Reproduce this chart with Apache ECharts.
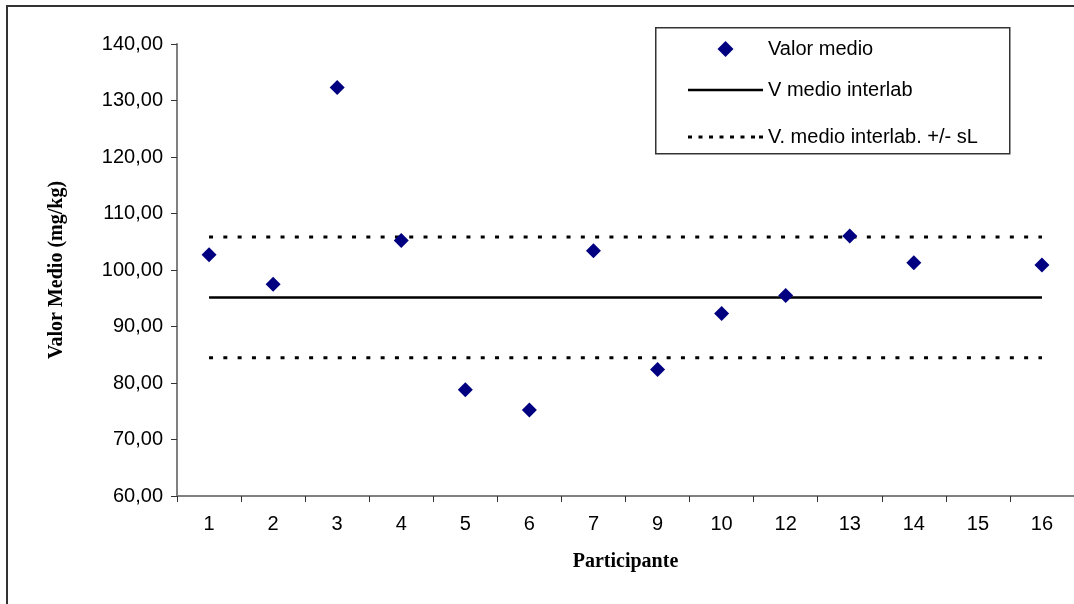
<!DOCTYPE html>
<html>
<head>
<meta charset="utf-8">
<script src="https://cdn.jsdelivr.net/npm/echarts@6/dist/echarts.min.js"></script>
<style>
html,body{margin:0;padding:0;background:#fff;}
#frame{position:absolute;left:6px;top:5px;width:1080px;height:620px;border:2px solid #333;box-sizing:border-box;}
#chart{position:absolute;left:0;top:0;width:1074px;height:604px;}
</style>
</head>
<body>
<div id="frame"></div>
<div id="chart"></div>
<script>
const categories = ['1','2','3','4','5','6','7','9','10','12','13','14','15','16'];
const valorMedio = [102.7, 97.5, 132.3, 105.2, 78.8, 75.2, 103.4, 82.4, 92.3, 95.5, 106.0, 101.3, null, 100.9];
const vMedioInterlab = 95.15;
const sL = 10.7;
const yTicks = {min: 60, max: 140, interval: 10};

const meanLine = categories.map(() => vMedioInterlab);
const upperLine = categories.map(() => +(vMedioInterlab + sL).toFixed(2));
const lowerLine = categories.map(() => +(vMedioInterlab - sL).toFixed(2));

const SANS = 'Liberation Sans, Arial, sans-serif';
const SERIF = 'Liberation Serif, Times New Roman, serif';
const FS = 20;

const chart = echarts.init(document.getElementById('chart'));
const dash = {color: '#000', width: 3, type: [4, 10.3]};
const dashIcon = 'path://M0,0 L4,0 L4,3 L0,3 Z M10.5,0 L14.5,0 L14.5,3 L10.5,3 Z M21,0 L25,0 L25,3 L21,3 Z M31.5,0 L35.5,0 L35.5,3 L31.5,3 Z M42,0 L46,0 L46,3 L42,3 Z M52.5,0 L56.5,0 L56.5,3 L52.5,3 Z M63,0 L67,0 L67,3 L63,3 Z M71,0 L75,0 L75,3 L71,3 Z';
const diamondIcon = 'path://M37.5,0 L45.5,8 L37.5,16 L29.5,8 Z M0,8 L0.01,8.01 Z M75,8 L74.99,8.01 Z';
const lineIcon = 'path://M0,0 L75,0 L75,2.5 L0,2.5 Z';
function leg(name, icon, cy, h) {
  return {
    left: 688, top: cy - 10, orient: 'vertical', padding: 0,
    itemWidth: 75, itemHeight: h,
    textStyle: {fontFamily: SANS, fontSize: FS, color: '#000', lineHeight: 20},
    data: [{name: name, icon: icon}],
    z: 10
  };
}
chart.setOption({
  animation: false,
  backgroundColor: 'transparent',
  grid: {left: 177, top: 44, right: 0, bottom: 108},
  graphic: [{
    type: 'rect', left: 655, top: 27,
    shape: {width: 354, height: 126},
    style: {fill: '#fff', stroke: '#333', lineWidth: 1.5},
    z: 5
  }],
  legend: [
    leg('Valor medio', diamondIcon, 49, 16),
    leg('V medio interlab', lineIcon, 90, 2.5),
    leg('V. medio interlab. +/- sL', dashIcon, 137, 3)
  ],
  xAxis: {
    type: 'category',
    data: categories,
    boundaryGap: true,
    name: 'Participante',
    nameLocation: 'middle',
    nameGap: 56,
    nameTextStyle: {fontFamily: SERIF, fontWeight: 'bold', fontSize: FS, color: '#000'},
    axisLine: {lineStyle: {color: '#808080', width: 2}},
    axisTick: {show: true, length: 6, inside: false, lineStyle: {color: '#333', width: 1}},
    axisLabel: {fontFamily: SANS, fontSize: FS, color: '#000', margin: 18},
    splitLine: {show: false}
  },
  yAxis: {
    type: 'value',
    min: yTicks.min, max: yTicks.max, interval: yTicks.interval,
    name: 'Valor Medio (mg/kg)',
    nameLocation: 'middle',
    nameGap: 110,
    nameRotate: 90,
    nameTextStyle: {fontFamily: SERIF, fontWeight: 'bold', fontSize: FS, color: '#000'},
    axisLine: {show: true, lineStyle: {color: '#808080', width: 2}},
    axisTick: {show: true, length: 6, lineStyle: {color: '#333', width: 1}},
    axisLabel: {fontFamily: SANS, fontSize: FS, color: '#000', margin: 14,
      formatter: v => v.toFixed(2).replace('.', ',')},
    splitLine: {show: false}
  },
  series: [
    {name: 'V. medio interlab. +/- sL', type: 'line', data: upperLine, symbol: 'none', lineStyle: dash, itemStyle: {color: '#000'}, z: 1},
    {name: 'V. medio interlab. +/- sL', type: 'line', data: lowerLine, symbol: 'none', lineStyle: dash, itemStyle: {color: '#000'}, z: 1},
    {name: 'V medio interlab', type: 'line', data: meanLine, symbol: 'none', lineStyle: {color: '#000', width: 2.5}, itemStyle: {color: '#000'}, z: 1},
    {name: 'Valor medio', type: 'scatter', data: valorMedio, symbol: 'diamond', symbolSize: 15, itemStyle: {color: '#000080', opacity: 1}, z: 3}
  ]
});
</script>
</body>
</html>
